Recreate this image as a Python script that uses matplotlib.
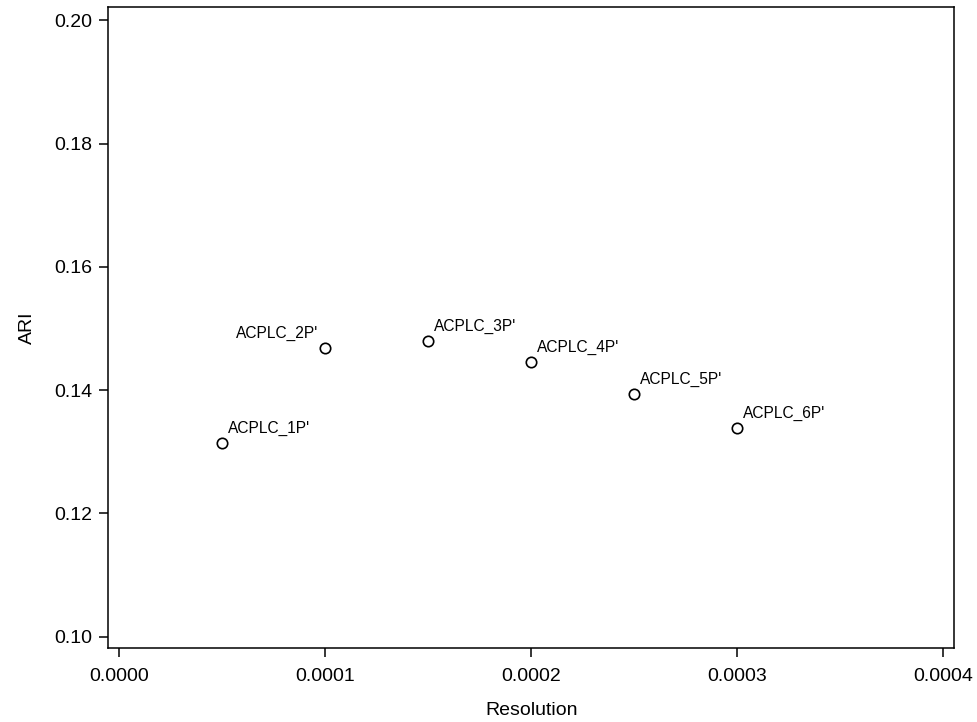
import matplotlib
matplotlib.use("Agg")
import matplotlib.pyplot as plt

plt.rcParams['font.family'] = ['Liberation Sans', 'DejaVu Sans']

resolution = [0.00005, 0.0001, 0.00015, 0.0002, 0.00025, 0.0003]
ari = [0.1315, 0.1469, 0.1479, 0.1446, 0.1394, 0.1338]
names = ["ACPLC_1P'", "ACPLC_2P'", "ACPLC_3P'", "ACPLC_4P'", "ACPLC_5P'", "ACPLC_6P'"]

fig = plt.figure(figsize=(9.77, 7.22), dpi=100)
ax = fig.add_axes([0.1105, 0.1025, 0.8663, 0.8874])

ax.plot(resolution, ari, linestyle='none', marker='o', markersize=7.5,
        markerfacecolor='white', markeredgecolor='black', markeredgewidth=1.2)

for xv, yv, name in zip(resolution, ari, names):
    if name == "ACPLC_2P'":
        ax.annotate(name, (xv, yv), xytext=(-5, 5), textcoords='offset points',
                    ha='right', va='bottom', fontsize=11.2)
    else:
        ax.annotate(name, (xv, yv), xytext=(4, 5), textcoords='offset points',
                    ha='left', va='bottom', fontsize=11.2)

ax.set_xlim(-0.0000055, 0.0004053)
ax.set_ylim(0.09817, 0.2021)
ax.set_xticks([0.0, 0.0001, 0.0002, 0.0003, 0.0004])
ax.set_xticklabels(["0.0000", "0.0001", "0.0002", "0.0003", "0.0004"])
ax.set_yticks([0.10, 0.12, 0.14, 0.16, 0.18, 0.20])
ax.set_yticklabels(["0.10", "0.12", "0.14", "0.16", "0.18", "0.20"])
ax.tick_params(direction='out', length=6.5, width=1.1, labelsize=14, colors='black')
ax.tick_params(axis='x', pad=8)
ax.tick_params(axis='y', pad=5)
for s in ax.spines.values():
    s.set_linewidth(1.1)

ax.set_xlabel("Resolution", fontsize=14, labelpad=12)
ax.set_ylabel("ARI", fontsize=14, labelpad=13)

fig.savefig("out.png", dpi=100)
